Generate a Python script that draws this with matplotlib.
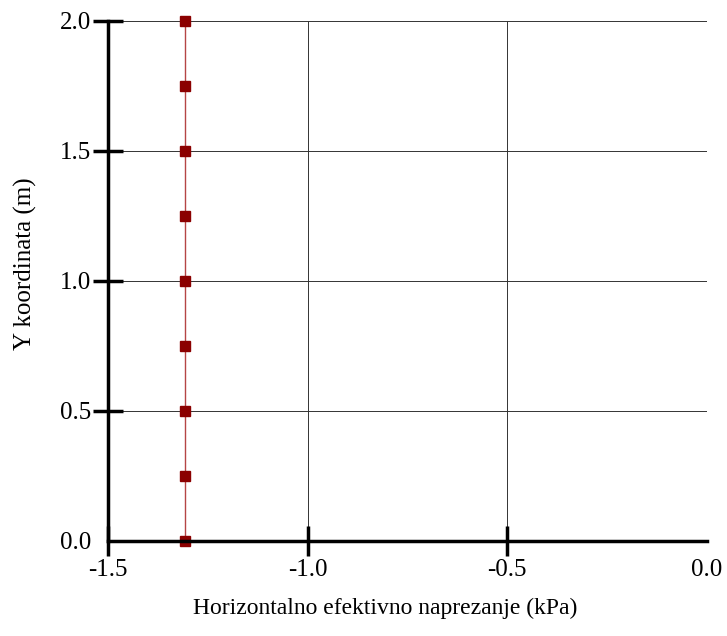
import matplotlib
matplotlib.use("Agg")
import matplotlib.pyplot as plt

# horizontal effective stress along the section height
y_coord = [0.0, 0.25, 0.5, 0.75, 1.0, 1.25, 1.5, 1.75, 2.0]
sigma_h = [-1.307, -1.307, -1.307, -1.307, -1.307, -1.307, -1.307, -1.307, -1.307]

x_ticks = [-1.5, -1.0, -0.5, 0.0]
y_ticks = [0.0, 0.5, 1.0, 1.5, 2.0]

plt.rcParams['font.family'] = ['Liberation Serif', 'DejaVu Serif']

fig = plt.figure(figsize=(7.27, 6.36), dpi=100)
ax = fig.add_axes([0.1486, 0.1494, 0.8239, 0.8176])

ax.plot(sigma_h, y_coord, color='#b54545', linewidth=1.0, zorder=3)
ax.plot(sigma_h, y_coord, linestyle='none', marker='s', markersize=7,
        color='#8b0000', zorder=4, clip_on=False)

ax.set_xlim(-1.5, 0.0)
ax.set_ylim(0.0, 2.0)
ax.set_xticks(x_ticks)
ax.set_yticks(y_ticks)
ax.set_xticklabels(['{:.1f}'.format(v) for v in x_ticks])
ax.set_yticklabels(['{:.1f}'.format(v) for v in y_ticks])

ax.grid(True, color='#333333', linewidth=0.7, zorder=1)
ax.set_axisbelow(True)

for side in ['top', 'right']:
    ax.spines[side].set_visible(False)
for side in ['left', 'bottom']:
    ax.spines[side].set_linewidth(2.5)
    ax.spines[side].set_zorder(5)

ax.tick_params(axis='both', direction='inout', length=22, width=2.5,
               labelsize=18, pad=1)
ax.tick_params(axis='x', pad=2)

# the axis corner and the right end carry no tick marks
ax.xaxis.get_major_ticks()[-1].tick1line.set_visible(False)
ax.yaxis.get_major_ticks()[0].tick1line.set_visible(False)

ax.set_xlabel('Horizontalno efektivno naprezanje (kPa)', fontsize=17)
ax.xaxis.set_label_coords(0.462, -0.110)
ax.set_ylabel('Y koordinata (m)', fontsize=18)
ax.yaxis.set_label_coords(-0.118, 0.533)

fig.savefig('out.png', dpi=100)
